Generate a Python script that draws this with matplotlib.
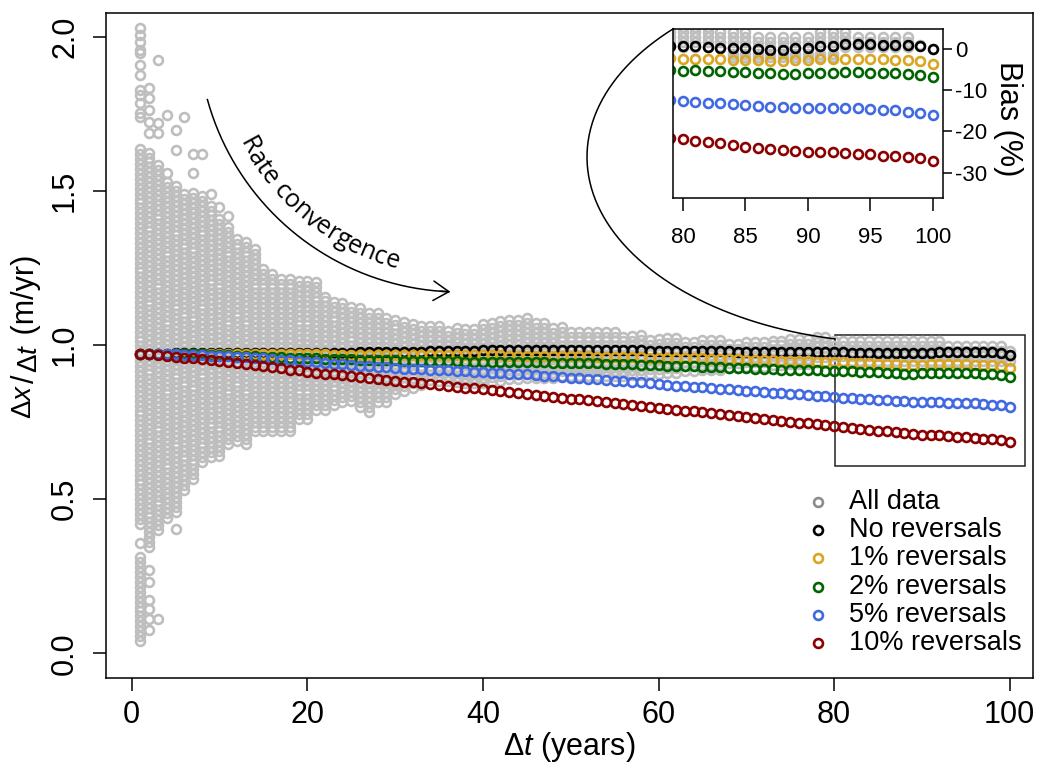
import numpy as np
import matplotlib
matplotlib.use('Agg')
import matplotlib.pyplot as plt
from matplotlib.lines import Line2D
from matplotlib.patches import Rectangle, FancyArrowPatch
from matplotlib.font_manager import FontProperties

plt.rcParams['font.family'] = ['Liberation Sans', 'DejaVu Sans']
plt.rcParams['mathtext.fontset'] = 'custom'
plt.rcParams['mathtext.rm'] = 'Liberation Sans'
plt.rcParams['mathtext.it'] = 'Liberation Sans:italic'
plt.rcParams['mathtext.bf'] = 'Liberation Sans:bold'

# ---- data ----
dt = np.arange(1, 101)

no_rev = [0.972, 0.973, 0.973, 0.973, 0.974, 0.974, 0.974, 0.974, 0.974, 0.974,
          0.974, 0.974, 0.974, 0.974, 0.974, 0.974, 0.974, 0.975, 0.975, 0.975,
          0.975, 0.975, 0.976, 0.976, 0.976, 0.977, 0.977, 0.977, 0.978, 0.978,
          0.978, 0.979, 0.979, 0.980, 0.980, 0.981, 0.981, 0.982, 0.982, 0.983,
          0.983, 0.983, 0.984, 0.984, 0.984, 0.984, 0.984, 0.984, 0.984, 0.984,
          0.984, 0.983, 0.983, 0.983, 0.983, 0.983, 0.983, 0.983, 0.982, 0.982,
          0.982, 0.982, 0.981, 0.981, 0.981, 0.980, 0.980, 0.980, 0.979, 0.979,
          0.979, 0.979, 0.978, 0.978, 0.978, 0.978, 0.978, 0.977, 0.977, 0.977,
          0.977, 0.976, 0.976, 0.975, 0.975, 0.974, 0.974, 0.974, 0.975, 0.975,
          0.976, 0.977, 0.978, 0.978, 0.978, 0.977, 0.977, 0.977, 0.975, 0.967]
rev1 = [0.972, 0.973, 0.973, 0.973, 0.973, 0.973, 0.972, 0.972, 0.972, 0.972,
        0.972, 0.972, 0.971, 0.971, 0.971, 0.971, 0.971, 0.970, 0.970, 0.970,
        0.970, 0.970, 0.969, 0.969, 0.969, 0.969, 0.969, 0.968, 0.968, 0.968,
        0.968, 0.968, 0.968, 0.967, 0.967, 0.967, 0.967, 0.967, 0.967, 0.967,
        0.967, 0.967, 0.966, 0.966, 0.966, 0.966, 0.965, 0.965, 0.965, 0.964,
        0.964, 0.964, 0.963, 0.963, 0.962, 0.962, 0.961, 0.961, 0.960, 0.960,
        0.959, 0.959, 0.958, 0.957, 0.957, 0.956, 0.955, 0.955, 0.954, 0.953,
        0.952, 0.952, 0.951, 0.950, 0.949, 0.948, 0.948, 0.947, 0.946, 0.945,
        0.944, 0.943, 0.942, 0.941, 0.940, 0.939, 0.938, 0.937, 0.937, 0.937,
        0.938, 0.938, 0.938, 0.938, 0.938, 0.937, 0.936, 0.935, 0.933, 0.927]
rev2 = [0.972, 0.973, 0.973, 0.972, 0.972, 0.971, 0.971, 0.970, 0.969, 0.968,
        0.967, 0.966, 0.965, 0.964, 0.963, 0.962, 0.961, 0.960, 0.959, 0.958,
        0.957, 0.956, 0.955, 0.955, 0.954, 0.953, 0.953, 0.952, 0.951, 0.951,
        0.950, 0.950, 0.949, 0.949, 0.948, 0.948, 0.948, 0.947, 0.947, 0.947,
        0.946, 0.946, 0.946, 0.945, 0.945, 0.944, 0.944, 0.943, 0.943, 0.942,
        0.942, 0.941, 0.941, 0.940, 0.939, 0.939, 0.938, 0.937, 0.936, 0.935,
        0.934, 0.933, 0.932, 0.931, 0.930, 0.929, 0.928, 0.927, 0.926, 0.925,
        0.924, 0.923, 0.922, 0.921, 0.920, 0.919, 0.918, 0.918, 0.917, 0.916,
        0.916, 0.915, 0.914, 0.913, 0.912, 0.910, 0.909, 0.908, 0.908, 0.909,
        0.910, 0.910, 0.911, 0.911, 0.910, 0.909, 0.908, 0.906, 0.903, 0.897]
rev5 = [0.972, 0.972, 0.971, 0.970, 0.970, 0.969, 0.968, 0.967, 0.966, 0.965,
        0.964, 0.962, 0.961, 0.959, 0.957, 0.955, 0.953, 0.951, 0.949, 0.946,
        0.944, 0.942, 0.940, 0.938, 0.936, 0.934, 0.932, 0.930, 0.928, 0.925,
        0.924, 0.923, 0.922, 0.921, 0.920, 0.919, 0.917, 0.916, 0.914, 0.912,
        0.911, 0.909, 0.908, 0.906, 0.905, 0.903, 0.901, 0.899, 0.897, 0.895,
        0.893, 0.891, 0.889, 0.887, 0.885, 0.883, 0.881, 0.879, 0.876, 0.873,
        0.871, 0.869, 0.867, 0.865, 0.863, 0.861, 0.859, 0.857, 0.855, 0.852,
        0.850, 0.848, 0.846, 0.844, 0.842, 0.840, 0.838, 0.836, 0.834, 0.832,
        0.830, 0.828, 0.826, 0.824, 0.823, 0.821, 0.820, 0.818, 0.817, 0.816,
        0.815, 0.815, 0.814, 0.813, 0.812, 0.811, 0.809, 0.807, 0.805, 0.800]
rev10 = [0.972, 0.970, 0.968, 0.965, 0.962, 0.960, 0.957, 0.954, 0.951, 0.948,
         0.945, 0.942, 0.938, 0.935, 0.932, 0.928, 0.925, 0.921, 0.918, 0.914,
         0.911, 0.908, 0.905, 0.902, 0.899, 0.896, 0.893, 0.890, 0.887, 0.884,
         0.881, 0.879, 0.876, 0.873, 0.870, 0.868, 0.865, 0.862, 0.860, 0.857,
         0.854, 0.851, 0.848, 0.845, 0.842, 0.839, 0.836, 0.833, 0.830, 0.827,
         0.824, 0.821, 0.818, 0.815, 0.812, 0.809, 0.806, 0.803, 0.800, 0.797,
         0.794, 0.791, 0.788, 0.785, 0.782, 0.779, 0.776, 0.773, 0.770, 0.767,
         0.764, 0.761, 0.758, 0.755, 0.752, 0.749, 0.746, 0.743, 0.740, 0.737,
         0.734, 0.732, 0.729, 0.726, 0.723, 0.720, 0.717, 0.715, 0.712, 0.710,
         0.709, 0.707, 0.705, 0.703, 0.701, 0.698, 0.696, 0.694, 0.691, 0.686]

# the gray cloud is far too crowded to read circle by circle, so each column is
# given as the y range it covers, plus the loose circles read one by one
cloud_lo = [0.42, 0.345, 0.40, 0.44, 0.46, 0.53, 0.565, 0.62, 0.637, 0.64,
            0.68, 0.69, 0.68, 0.72, 0.72, 0.72, 0.72, 0.72, 0.76, 0.76,
            0.79, 0.79, 0.805, 0.816, 0.82, 0.80, 0.783, 0.816, 0.816, 0.843,
            0.85, 0.86, 0.87, 0.886, 0.885, 0.885, 0.88, 0.876, 0.876, 0.876,
            0.88, 0.885, 0.89, 0.89, 0.895, 0.895, 0.895, 0.895, 0.90, 0.90,
            0.90, 0.90, 0.90, 0.90, 0.90, 0.90, 0.902, 0.904, 0.906, 0.908,
            0.91, 0.91, 0.915, 0.915, 0.92, 0.92, 0.92, 0.925, 0.925, 0.93,
            0.93, 0.93, 0.935, 0.935, 0.94, 0.94, 0.94, 0.945, 0.945, 0.95,
            0.95, 0.95, 0.95, 0.95, 0.95, 0.95, 0.95, 0.95, 0.95, 0.95,
            0.95, 0.95, 0.95, 0.95, 0.95, 0.95, 0.95, 0.95, 0.95, 0.95]
cloud_hi = [1.63, 1.63, 1.58, 1.525, 1.51, 1.49, 1.50, 1.49, 1.45, 1.405,
            1.39, 1.34, 1.33, 1.31, 1.25, 1.24, 1.22, 1.21, 1.21, 1.21,
            1.20, 1.16, 1.14, 1.13, 1.12, 1.12, 1.11, 1.10, 1.095, 1.085,
            1.07, 1.065, 1.06, 1.06, 1.055, 1.05, 1.05, 1.045, 1.05, 1.06,
            1.07, 1.075, 1.08, 1.085, 1.08, 1.075, 1.065, 1.06, 1.055, 1.05,
            1.045, 1.045, 1.04, 1.04, 1.04, 1.035, 1.03, 1.03, 1.025, 1.025,
            1.02, 1.02, 1.018, 1.016, 1.015, 1.015, 1.015, 1.012, 1.012, 1.012,
            1.012, 1.013, 1.015, 1.017, 1.02, 1.02, 1.02, 1.02, 1.018, 1.018,
            1.018, 1.018, 1.016, 1.016, 1.015, 1.015, 1.013, 1.012, 1.01, 1.008,
            1.008, 1.006, 1.005, 1.004, 1.002, 1.0, 0.998, 0.997, 0.99, 0.975]
seg_x = [1]
seg_lo = [0.04]
seg_hi = [0.31]
loose_x = [1, 1, 1, 1, 1, 1, 1, 1, 1, 1, 1, 1, 1,
           2, 2, 2, 2, 2, 2, 2, 2, 2, 2, 2,
           3, 3, 3, 3, 4, 4, 5, 5, 5, 6, 7, 7, 8, 9, 10, 11]
loose_y = [2.028, 2.006, 1.985, 1.958, 1.947, 1.909, 1.877, 1.828, 1.812, 1.785, 1.752, 1.741, 0.357,
           1.833, 1.801, 1.763, 1.725, 1.687, 0.27, 0.23, 0.172, 0.145, 0.113, 0.075,
           1.925, 1.72, 1.69, 0.113, 1.747, 1.558, 1.698, 1.633, 0.405, 1.741, 1.62, 1.558,
           1.62, 1.49, 1.45, 1.42]

# inset: bias (%) for dt = 79..100 (79 is cut by the inset's left edge)
inset_dt = np.arange(79, 101)
bias_no = [0.7, 0.7, 0.7, 0.6, 0.4, 0.4, 0.2, 0.0, -0.1, -0.1, 0.2, 0.4,
           0.7, 0.8, 1.2, 1.2, 1.2, 1.0, 1.0, 1.1, 0.8, 0.0]
bias_1 = [-2.2, -2.3, -2.3, -2.4, -2.5, -2.6, -2.6, -2.7, -2.8, -2.8, -2.7, -2.6,
          -2.5, -2.5, -2.4, -2.4, -2.4, -2.5, -2.6, -2.6, -2.9, -3.5]
bias_2 = [-5.0, -5.2, -5.1, -5.3, -5.4, -5.5, -5.6, -5.8, -5.9, -6.0, -6.0, -5.9,
          -5.8, -5.7, -5.6, -5.6, -5.7, -5.8, -5.9, -6.0, -6.3, -6.8]
bias_5 = [-12.4, -12.6, -12.8, -13.0, -13.2, -13.4, -13.6, -13.8, -14.0, -14.1, -14.2, -14.2,
          -14.2, -14.2, -14.3, -14.4, -14.5, -14.7, -14.9, -15.2, -15.5, -16.1]
bias_10 = [-21.6, -21.9, -22.3, -22.5, -22.8, -23.3, -23.7, -24.0, -24.3, -24.5, -24.8, -24.9,
           -24.9, -25.0, -25.3, -25.4, -25.6, -25.9, -26.0, -26.2, -26.5, -27.1]
inset_cloud_x = np.arange(79, 100)
inset_cloud_lo = [0.6] * 20 + [1.0]
inset_cloud_hi = [5.0, 5.0, 5.0, 5.0, 4.6, 4.6, 4.0, 3.5, 3.2, 3.5, 3.6,
                  3.6, 4.0, 4.2, 4.0, 3.6, 3.5, 3.5, 3.4, 3.0, 1.5]
inset_seg_x = [84, 85, 86, 87, 88, 89, 90, 91, 92]
inset_seg_lo = [-2.0] * 9
inset_seg_hi = [-1.2] * 9

labels = ['All data', 'No reversals', '1% reversals', '2% reversals',
          '5% reversals', '10% reversals']
colors = ['#8c8c8c', 'black', '#DAA520', '#006400', '#4169E1', '#8B0000']
cloud_color = '#BEBEBE'


def fill_columns(xs, lo, hi, step):
    px, py = [], []
    for x, a, b in zip(xs, lo, hi):
        if b < a:
            continue
        ys = np.arange(a, b + step / 2, step)
        px += [x] * len(ys)
        py += list(ys)
    return px, py


W, H = 1037, 763


def fxy(px, py):
    return px / W, 1 - py / H


fig = plt.figure(figsize=(W / 100, H / 100), dpi=100)
ax = fig.add_axes([105.7 / W, 1 - 678 / H, (1033 - 105.7) / W, (678 - 13) / H])

mk = dict(marker='o', linestyle='none', mfc='none', ms=6.4, mew=1.9)

cx, cy = fill_columns(dt, cloud_lo, cloud_hi, 0.016)
sx, sy = fill_columns(seg_x, seg_lo, seg_hi, 0.016)
ax.plot(cx + sx + loose_x, cy + sy + loose_y, color=cloud_color, **mk)
for ys, c in zip([no_rev, rev1, rev2, rev5, rev10], colors[1:]):
    ax.plot(dt, ys, color=c, **mk)

ax.set_xlim(-2.96, 102.65)
ax.set_ylim(-0.08, 2.078)
ax.set_xticks([0, 20, 40, 60, 80, 100])
ax.set_yticks([0, 0.5, 1.0, 1.5, 2.0])
ax.set_yticklabels(['0.0', '0.5', '1.0', '1.5', '2.0'], rotation=90, va='center')
ax.tick_params(axis='both', length=9.5, width=1.1, labelsize=22)
ax.tick_params(axis='x', pad=6)
ax.tick_params(axis='y', pad=9)
for s in ax.spines.values():
    s.set_linewidth(1.1)
ax.set_xlabel(r'$\Delta t$ (years)', fontsize=22, labelpad=0)

# zoom box
ax.add_patch(Rectangle((80.1, 0.608), 21.6, 0.424, fill=False, lw=1.1,
                       edgecolor='#222222'))

# legend
ax_w, ax_h = 1033 - 105.7, 678 - 13
for i, (lab, c) in enumerate(zip(labels, colors)):
    py = 501.7 + i * 28.3
    ax.plot([(818 - 105.7) / ax_w], [(678 - py) / ax_h], transform=ax.transAxes,
            color=c, marker='o', mfc='none', ms=6.4, mew=1.9, clip_on=False)
    ax.text((849 - 105.7) / ax_w, (678 - py) / ax_h, lab, transform=ax.transAxes,
            fontsize=19.5, va='center', ha='left')

# inset
ax_in = fig.add_axes([672.7 / W, 1 - 198 / H, (943 - 672.7) / W, 169 / H])
ix, iy = fill_columns(inset_cloud_x, inset_cloud_lo, inset_cloud_hi, 1.2)
jx, jy = fill_columns(inset_seg_x, inset_seg_lo, inset_seg_hi, 0.8)
ax_in.plot(ix + jx, iy + jy, color=cloud_color, **mk)
for ys, c in zip([bias_no, bias_1, bias_2, bias_5, bias_10], colors[1:]):
    ax_in.plot(inset_dt, ys, color=c, **mk)
ax_in.set_xlim(79.18, 100.8)
ax_in.set_ylim(-36.2, 4.9)
ax_in.set_xticks([80, 85, 90, 95, 100])
ax_in.set_yticks([0, -10, -20, -30])
ax_in.set_yticklabels(['0', '-10', '-20', '-30'])
ax_in.yaxis.tick_right()
ax_in.tick_params(axis='x', length=9, width=1.1, labelsize=16, pad=12)
ax_in.tick_params(axis='y', length=6.5, width=1.1, labelsize=16, pad=2)
for s in ax_in.spines.values():
    s.set_linewidth(1.1)
ax_in.text(1.24, 0.47, 'Bias (%)', rotation=270, transform=ax_in.transAxes,
           ha='center', va='center', fontsize=22)

renderer = fig.canvas.get_renderer()

# y label built in pieces: Δx raised, Δt lowered around the slash
pieces = [(r'$\Delta x$', 20, 31), ('/', 22, 34), (r'$\Delta t$', 20, 37), (' (m/yr)', 22, 34)]
ypos = 419
for txt, fs, base in pieces:
    fpp = FontProperties(family='Liberation Sans', size=fs)
    w = renderer.get_text_width_height_descent(txt, fpp, ismath=txt.startswith('$'))[0]
    fig.text(base / W, 1 - ypos / H, txt, fontproperties=fpp, rotation=90,
             ha='left', va='baseline', rotation_mode='anchor')
    ypos -= w + 1

# curved connector from inset to zoom box (half ellipse)
phi = np.radians(np.linspace(223.6, 102, 200))
ex = 900 + 313 * np.cos(phi)
ey = 157 + 186 * np.sin(phi)
fig.add_artist(Line2D(ex / W, 1 - ey / H, transform=fig.transFigure,
                      color='black', lw=1.1))

# "Rate convergence" arc arrow
ccx, ccy, r_arc = 460, 30, 262
th = np.radians(np.linspace(164.6, 92.5, 200))
ax_px = ccx + r_arc * np.cos(th)
ay_px = ccy + r_arc * np.sin(th)
fig.add_artist(Line2D(ax_px / W, 1 - ay_px / H, transform=fig.transFigure,
                      color='black', lw=1.1))
ta, tb = np.radians(95), np.radians(91.5)
fig.add_artist(FancyArrowPatch(fxy(ccx + r_arc * np.cos(ta), ccy + r_arc * np.sin(ta)),
                               fxy(ccx + r_arc * np.cos(tb), ccy + r_arc * np.sin(tb)),
                               transform=fig.transFigure,
                               arrowstyle='->,head_length=0.8,head_width=0.5',
                               mutation_scale=14, lw=1.1, color='black'))

# text set along the arc, letters' feet facing the arc
label = 'Rate convergence'
r_base = 247
th0, th1 = 153.0, 105.0
fp10 = FontProperties(family='Open Sans', size=10)
w10 = renderer.get_text_width_height_descent(label, fp10, ismath=False)[0]
size = 10 * np.radians(th0 - th1) * r_base / w10
fp = FontProperties(family='Open Sans', size=size)
for i, ch in enumerate(label):
    if ch == ' ':
        continue
    w_pre = renderer.get_text_width_height_descent(label[:i + 1], fp, ismath=False)[0]
    w_ch = renderer.get_text_width_height_descent(ch, fp, ismath=False)[0]
    s = w_pre - w_ch / 2
    t = th0 - np.degrees(s / r_base)
    px = ccx + r_base * np.cos(np.radians(t))
    py = ccy + r_base * np.sin(np.radians(t))
    fig.text(px / W, 1 - py / H, ch, fontproperties=fp, rotation=90 - t,
             ha='center', va='baseline', rotation_mode='anchor')

fig.savefig('out.png', dpi=100)
